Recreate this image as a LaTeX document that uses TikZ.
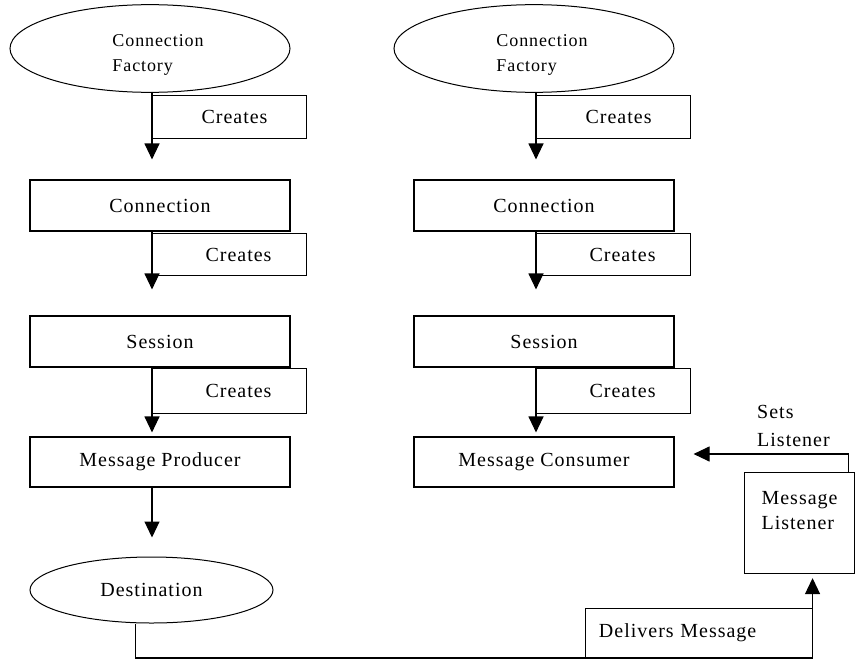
\documentclass[tikz,border=0pt]{standalone}
\usepackage{fontspec}
\setmainfont[LetterSpace=5]{Liberation Serif}
\usetikzlibrary{arrows.meta,shapes.geometric,calc}

\tikzset{
  txt/.style={font=\fontsize{20}{25}\selectfont},
  box/.style={draw,line width=1.1pt,minimum width=260pt,minimum height=51pt,inner sep=0pt,txt},
  crbox/.style={draw,line width=1.1pt,minimum width=154pt,minimum height=43pt,anchor=north west,inner sep=0pt,txt},
  oval/.style={draw,ellipse,line width=1pt,inner sep=0pt,txt},
  arr/.style={line width=1.1pt,-{Triangle[width=15pt,length=16pt]}},
}

\begin{document}
\begin{tikzpicture}[x=1pt,y=-1pt]
\useasboundingbox (0,0) rectangle (856,661);
% the two chains, producer side and consumer side
\foreach \dx/\c/\lbl in {0/l/Message Producer,384/r/Message Consumer}{
 \begin{scope}[shift={(\dx,0)}]
  \node[oval,minimum width=280pt,minimum height=87pt,font=\fontsize{18}{25}\selectfont] (cf\c) at (150,48.5)
    {\begin{tabular}{@{\hspace{16pt}}l@{}}\rule{0pt}{29.5pt}Connection\\Factory\end{tabular}};
  \node[box] (conn\c) at (160,205.5) {Connection};
  \node[box] (sess\c) at (160,341.5) {Session};
  \node[box,minimum height=50pt] (msg\c) at (160,462) {\lbl};
  \node[crbox] (cra\c) at (152,95) {\hspace{10pt}Creates};
  \node[crbox,minimum height=42pt] (crb\c) at (152,233) {\hspace{18pt}Creates};
  \node[crbox,minimum height=45pt] (crc\c) at (152,368) {\hspace{18pt}Creates};
  \draw[arr,shorten >=20pt] (cf\c.south -| cra\c.west) -- (conn\c.north -| cra\c.west);
  \draw[arr,shorten >=26pt] (conn\c.south -| crb\c.west) -- (sess\c.north -| crb\c.west);
  \draw[arr,shorten >=4pt] (sess\c.south -| crc\c.west) -- (msg\c.north -| crc\c.west);
 \end{scope}
}
\node[oval,minimum width=243pt,minimum height=66pt] (dest) at (151.5,590) {Destination};
\draw[arr,shorten >=19pt] (msgl.south -| crcl.west) -- (dest.north -| crcl.west);

% listener side
\node[draw,line width=1.1pt,minimum width=110pt,minimum height=101pt,anchor=north west,align=left,inner sep=0pt,txt] (lis) at (744,472) {Message\\Listener\\~};
\node[anchor=north west,align=left,inner sep=0pt,font=\fontsize{20}{28}\selectfont] (setl) at (757,405) {Sets\\Listener};
\draw[arr,shorten >=19pt] ([xshift=-7pt]lis.north east) |- ([yshift=8pt]msgr.east);
\node[draw,line width=1.1pt,anchor=south east,minimum width=227pt,minimum height=49pt,inner ysep=0pt,inner xsep=13.5pt,text width=200pt,align=left,txt] (deliv) at (813,658) {Delivers Message};
\draw[arr,shorten >=4pt] ([xshift=-16pt]dest.south) |- (deliv.south west) -| ([xshift=13pt]lis.south);
\end{tikzpicture}
\end{document}
